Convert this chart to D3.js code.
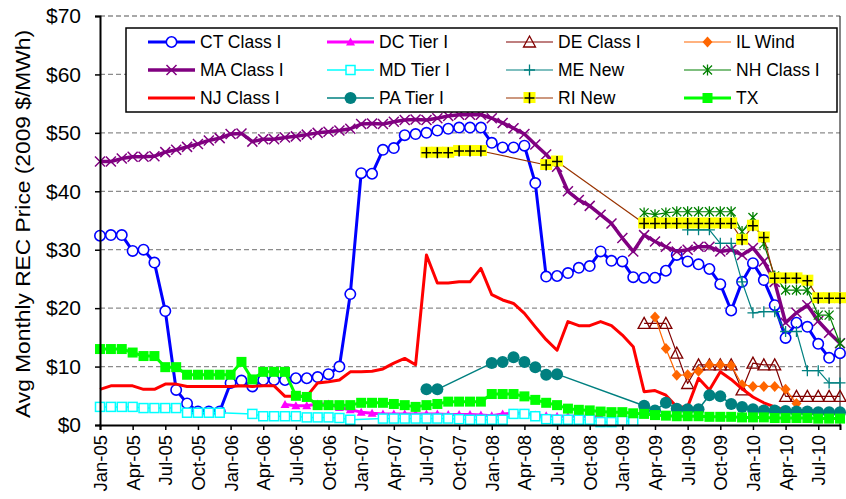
<!DOCTYPE html>
<html>
<head>
<meta charset="utf-8">
<style>
  body { margin: 0; background: #fff; }
  text { font-family: Arial, "Liberation Sans", sans-serif; fill: #000; }
</style>
</head>
<body>
<svg width="846" height="499"></svg>
<script src="https://d3js.org/d3.v7.min.js"></script>
<script>
// categories: Jan-05 .. Sep-10
const monthNames = ["Jan", "Feb", "Mar", "Apr", "May", "Jun", "Jul", "Aug", "Sep", "Oct", "Nov", "Dec"];
const yearLabels = ["05", "06", "07", "08", "09", "10"];
const categories = yearLabels.flatMap(yr => monthNames.map(m => m + "-" + yr)).slice(0, 69);
const yTicks = [0, 10, 20, 30, 40, 50, 60, 70];
const none = n => Array(n).fill(null);

const ctClassI = [32.4, 32.5, 32.5, 29.8, 30.0, 27.8, 19.5, 6.0, 3.7, 2.3, 2.3, 2.3,
  7.2, 7.6, 6.6, 7.7, 7.7, 7.7, 8.0, 8.0, 8.2, 8.7, 10.0, 22.4,
  43.1, 43.0, 47.1, 47.4, 49.6, 49.8, 50.0, 50.4, 50.7, 50.9, 50.9, 50.9,
  48.3, 47.5, 47.5, 47.8, 41.4, 25.4, 25.5, 26.0, 26.9, 27.2, 29.7, 28.1,
  28.0, 25.3, 25.2, 25.2, 26.4, 29.1, 28.0, 27.5, 26.7, 24.1, 19.6, 24.5,
  27.7, 24.8, 20.5, 14.9, 17.5, 16.8, 13.9, 11.5, 12.3];
const dcTierI = [...none(17), 3.5, 3.3, 3.3, 3.6, 3.6, 3.0, 2.6,
  2.2, 2.0, 1.9, 1.9, 1.9, 1.9, 1.9, 1.9, 1.8, 1.8, 1.8, 1.7,
  1.6, 1.9, 2.0, 2.0, 1.7, 1.6, 1.5, 1.5, 1.5, 1.4, 1.4, ...none(22)];
const deClassI = [...none(50), 17.4, 17.4, 17.4, 12.3, 7.1, 10.3, 10.3, 10.3, 10.3, 6.0,
  10.6, 10.3, 10.3, 4.9, 4.9, 4.9, 4.9, 4.9, 4.9];
const ilWind = [...none(51), 18.5, 13.1, 8.5, 8.6, 9.2, 10.3, 10.3, 10.2, 6.9,
  6.6, 6.6, 6.6, 6.1, 3.7, ...none(4)];
const maClassI = [45.1, 45.1, 45.6, 45.9, 45.9, 46.0, 46.7, 47.1, 47.6, 48.1, 48.7, 49.1,
  49.8, 49.9, 48.5, 48.9, 48.9, 49.2, 49.4, 49.7, 50.0, 50.2, 50.4, 50.7,
  51.5, 51.6, 51.5, 51.9, 52.2, 52.3, 52.2, 52.5, 52.9, 53.1, 53.1, 53.1,
  52.5, 51.7, 50.8, 49.8, 48.0, 46.3, 44.2, 40.0, 38.5, 37.5, 36.0, 34.5,
  32.0, 29.7, 32.5, 31.4, 30.5, 29.7, 30.0, 30.5, 30.5, 29.7, 30.0, 29.1,
  30.3, 28.0, 24.5, 17.5, 19.2, 20.5, 17.8, 15.8, 14.0];
const mdTierI = [3.1, 3.1, 3.1, 3.1, 2.9, 2.9, 2.9, 2.9, 2.1, 2.1, 2.1, 2.1,
  null, null, 1.9, 1.5, 1.5, 1.5, 1.5, 1.3, 1.3, 1.3, 1.2, 0.9,
  null, null, 1.1, 1.1, 1.1, 1.1, 1.1, 1.1, 1.1, 1.0, 0.9, 0.9,
  0.9, 0.9, 1.9, 1.9, 1.5, 1.0, 0.9, 0.9, 0.9, 0.9, 0.5, 0.5,
  0.7, 0.7, ...none(19)];
const meNew = [...none(54), 33.4, 33.4, 33.4, 31.1, 31.1, 24.5,
  19.2, 19.4, 19.4, 16.0, 16.0, 9.3, 9.3, 7.2, 7.2];
const nhClassI = [...none(50), 36.3, 36.0, 36.3, 36.5, 36.5, 36.5, 36.5, 36.5, 36.5, 33.1,
  35.5, 31.0, 25.5, 23.1, 23.1, 23.1, 18.8, 18.8, 14.0];
const njClassI = [6.1, 6.7, 6.7, 6.7, 6.1, 6.1, 7.0, 7.0, 6.6, 6.6, 6.6, 6.6,
  6.6, 6.7, 6.6, 6.7, 6.7, 4.9, 4.9, 4.9, 7.2, 7.4, 7.7, 9.1,
  9.1, 9.2, 9.6, 10.6, 11.4, 10.3, 29.1, 24.3, 24.3, 24.5, 24.5, 26.8,
  22.3, 21.4, 20.8, 19.1, 16.8, 14.6, 12.8, 17.7, 17.0, 17.0, 17.7, 17.0,
  15.4, 13.4, 5.7, 5.9, 5.1, 3.1, 3.1, 8.0, 6.0, 9.1, 7.8, 6.2,
  4.8, 3.8, 3.1, 2.5, 2.2, 2.0, 2.0, 2.0, 2.0];
const paTierI = [...none(30), 6.1, 6.1, null, null, null, null,
  10.6, 10.8, 11.6, 10.8, 9.9, 8.6, 8.7, ...none(7),
  3.3, 2.5, 3.8, 2.8, 2.7, 2.7, 5.1, 4.9, 3.6, 3.1,
  2.7, 2.5, 2.5, 2.4, 2.3, 2.3, 2.2, 2.2, 2.2];
const riNew = [...none(30), 46.6, 46.6, 46.6, 46.9, 46.9, 46.9,
  null, null, null, null, null, 44.5, 45.1, ...none(7),
  34.5, 34.5, 34.5, 34.5, 34.5, 34.5, 34.5, 34.5, 34.5, 31.7,
  34.1, 32.1, 25.1, 25.1, 25.1, 24.7, 21.7, 21.7, 21.7];
const tx = [13.0, 13.0, 13.0, 12.4, 11.8, 11.8, 9.9, 9.9, 8.6, 8.6, 8.6, 8.6,
  8.6, 10.8, 7.8, 9.1, 9.1, 9.1, 5.0, 4.8, 3.4, 3.4, 3.4, 3.4,
  3.8, 3.8, 3.8, 3.6, 3.4, 3.1, 3.4, 3.6, 4.0, 4.0, 4.0, 4.0,
  5.3, 5.3, 5.3, 4.9, 4.3, 3.8, 3.4, 2.8, 2.6, 2.5, 2.3, 2.2,
  2.2, 2.0, 1.9, 1.7, 1.6, 1.5, 1.5, 1.5, 1.4, 1.4, 1.4, 1.3,
  1.3, 1.3, 1.2, 1.2, 1.2, 1.2, 1.1, 1.1, 1.1];

const series = [
  {name: "CT Class I", values: ctClassI, color: "#0000ff", width: 3, marker: "circle"},
  {name: "DC Tier I", values: dcTierI, color: "#ff00ff", width: 3, marker: "triangle"},
  {name: "DE Class I", values: deClassI, color: "#800000", width: 1.2, marker: "triangleOpen"},
  {name: "IL Wind", values: ilWind, color: "#ff6600", width: 1.2, marker: "diamond"},
  {name: "MA Class I", values: maClassI, color: "#800080", width: 3.5, marker: "x"},
  {name: "MD Tier I", values: mdTierI, color: "#00ffff", width: 1.5, marker: "square"},
  {name: "ME New", values: meNew, color: "#008080", width: 1.2, marker: "plus"},
  {name: "NH Class I", values: nhClassI, color: "#008000", width: 1.2, marker: "star"},
  {name: "NJ Class I", values: njClassI, color: "#ff0000", width: 3, marker: null},
  {name: "PA Tier I", values: paTierI, color: "#008080", width: 1.5, marker: "dot"},
  {name: "RI New", values: riNew, color: "#993300", width: 1.2, marker: "yellowPlus"},
  {name: "TX", values: tx, color: "#00ff00", width: 3, marker: "block"}
];

const svg = d3.select("svg");
const x = d3.scalePoint().domain(categories).range([100, 840]);
const y = d3.scaleLinear().domain([0, 70]).range([425, 16]);

// gridlines
svg.append("g").selectAll("line")
  .data(yTicks.filter(d => d > 0))
  .enter().append("line")
  .attr("x1", 100).attr("x2", 840)
  .attr("y1", d => y(d)).attr("y2", d => y(d))
  .attr("stroke", "#8c8c8c").attr("stroke-width", 1.3)
  .attr("stroke-dasharray", "5,3");
svg.append("line")
  .attr("x1", 840).attr("x2", 840).attr("y1", 16).attr("y2", 425)
  .attr("stroke", "#333").attr("stroke-width", 1.2);

function marker(g, type, color) {
  if (type === "circle") {
    g.append("circle").attr("r", 5.2).attr("fill", "#fff").attr("stroke", color).attr("stroke-width", 1.6);
  } else if (type === "dot") {
    g.append("circle").attr("r", 6).attr("fill", color);
  } else if (type === "triangle") {
    g.append("path").attr("d", "M0,-4.5L4.5,3.5L-4.5,3.5Z").attr("fill", color);
  } else if (type === "triangleOpen") {
    g.append("path").attr("d", "M0,-6L6,5L-6,5Z").attr("fill", "none").attr("stroke", color).attr("stroke-width", 1.3);
  } else if (type === "diamond") {
    g.append("path").attr("d", "M0,-5.5L5,0L0,5.5L-5,0Z").attr("fill", color);
  } else if (type === "x") {
    g.append("path").attr("d", "M-5,-5L5,5M-5,5L5,-5").attr("stroke", color).attr("stroke-width", 1.5);
  } else if (type === "square") {
    g.append("rect").attr("x", -4.5).attr("y", -4.5).attr("width", 9).attr("height", 9)
      .attr("fill", "#fff").attr("stroke", color).attr("stroke-width", 1.5);
  } else if (type === "plus") {
    g.append("path").attr("d", "M-5.5,0H5.5M0,-5.5V5.5").attr("stroke", color).attr("stroke-width", 1.3);
  } else if (type === "star") {
    g.append("path").attr("d", "M-4.5,-4.5L4.5,4.5M-4.5,4.5L4.5,-4.5M0,-5.5V5.5").attr("stroke", color).attr("stroke-width", 1.3);
  } else if (type === "yellowPlus") {
    g.append("rect").attr("x", -6).attr("y", -6).attr("width", 12).attr("height", 11).attr("fill", "#ffff00");
    g.append("path").attr("d", "M-5,0H5M0,-5.5V5.5").attr("stroke", "#000").attr("stroke-width", 1.5);
  } else if (type === "block") {
    g.append("rect").attr("x", -5).attr("y", -5).attr("width", 10).attr("height", 10).attr("fill", color);
  }
}

const line = d3.line().x(d => x(d.cat)).y(d => y(d.v));
const plot = svg.append("g");
series.forEach(s => {
  const pts = s.values.map((v, i) => ({cat: categories[i], v: v})).filter(d => d.v != null);
  const g = plot.append("g");
  g.append("path").datum(pts)
    .attr("d", line).attr("fill", "none")
    .attr("stroke", s.color).attr("stroke-width", s.width)
    .attr("stroke-linejoin", "round");
  if (s.marker) {
    g.selectAll("g.m").data(pts).enter().append("g")
      .attr("class", "m")
      .attr("transform", d => `translate(${x(d.cat)},${y(d.v)})`)
      .each(function () { marker(d3.select(this), s.marker, s.color); });
  }
});

// axes
const yAxis = svg.append("g").attr("transform", "translate(100,0)")
  .call(d3.axisLeft(y).tickValues(yTicks).tickFormat(d => "$" + d).tickSize(5).tickPadding(14));
const xAxis = svg.append("g").attr("transform", "translate(0,425)")
  .call(d3.axisBottom(x).tickValues(categories.filter((d, i) => i % 3 === 0)).tickSize(5));
[yAxis, xAxis].forEach(a => {
  a.select(".domain").attr("stroke", "#000").attr("stroke-width", 2);
  a.selectAll(".tick line").attr("stroke", "#000").attr("stroke-width", 1.5);
});
yAxis.selectAll("text").attr("font-size", 21).attr("font-family", "Arial, 'Liberation Sans', sans-serif");
xAxis.selectAll("text")
  .attr("font-size", 18.5).attr("font-family", "Arial, 'Liberation Sans', sans-serif")
  .attr("transform", "rotate(-90)")
  .attr("text-anchor", "end")
  .attr("x", -10).attr("y", 0).attr("dy", "0.35em");

svg.append("text")
  .attr("transform", "translate(23,224) rotate(-90)")
  .attr("text-anchor", "middle")
  .attr("font-size", 20.5)
  .attr("textLength", 388)
  .attr("lengthAdjust", "spacingAndGlyphs")
  .attr("dy", "0.35em")
  .text("Avg Monthly REC Price (2009 $/MWh)");

// legend
const legend = svg.append("g");
legend.append("rect").attr("x", 126).attr("y", 28).attr("width", 711).attr("height", 84)
  .attr("fill", "#fff").attr("stroke", "#000").attr("stroke-width", 1.5);
const colX = [148, 327, 506, 684];
const rowY = [42, 70, 98];
series.forEach((s, i) => {
  const cx = colX[i % 4], cy = rowY[Math.floor(i / 4)];
  const g = legend.append("g");
  g.append("line").attr("x1", cx).attr("x2", cx + 47).attr("y1", cy).attr("y2", cy)
    .attr("stroke", s.color).attr("stroke-width", s.width);
  if (s.marker) {
    const m = g.append("g").attr("transform", `translate(${cx + 23.5},${cy})`);
    marker(m, s.marker, s.color);
  }
  g.append("text").attr("x", cx + 52).attr("y", cy).attr("dy", "0.36em")
    .attr("font-size", 17.5).text(s.name);
});
</script>
</body>
</html>
